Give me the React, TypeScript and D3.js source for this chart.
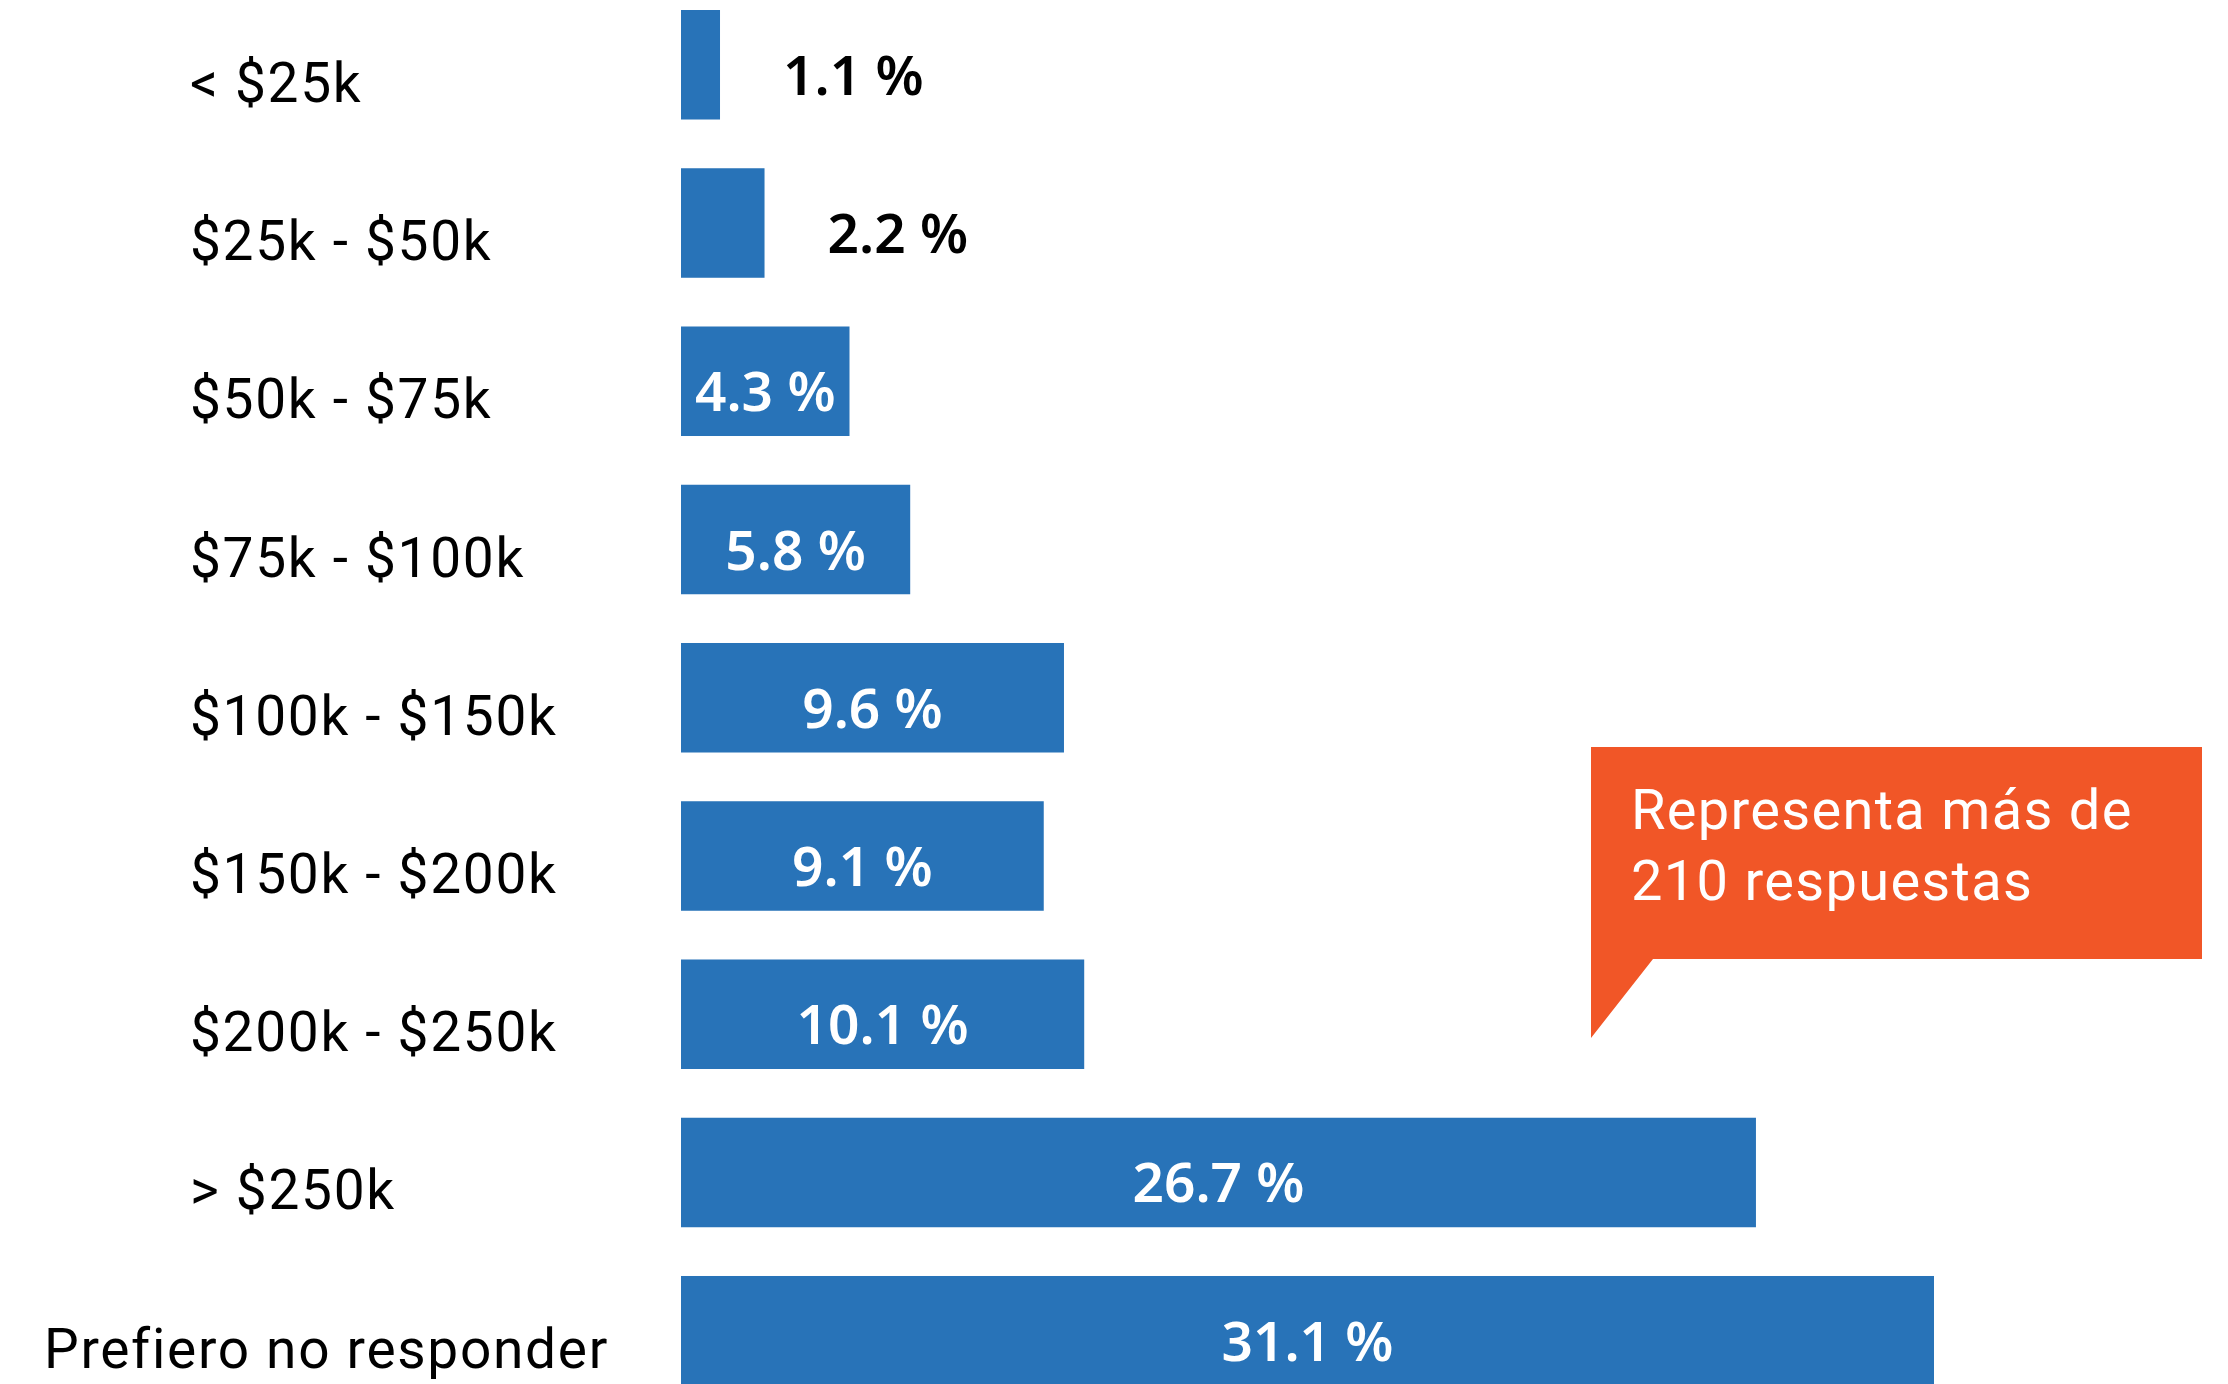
import React from "react";
import * as d3 from "d3";

const categories: string[] = [
  "< $25k",
  "$25k - $50k",
  "$50k - $75k",
  "$75k - $100k",
  "$100k - $150k",
  "$150k - $200k",
  "$200k - $250k",
  "> $250k",
  "Prefiero no responder",
];
const values: number[] = [1.1, 2.2, 4.3, 5.8, 9.6, 9.1, 10.1, 26.7, 31.1];
const annotationLines: string[] = ["Representa más de", "210 respuestas"];

const W = 2228;
const H = 1384;
const BLUE = "#2873B8";
const ORANGE = "#F15627";
const plotLeft = 681;
const labelLeft = 190;
const labelRightLimit = 609;
const catSpacing = 1.7;

function measure(text: string, font: string, spacing = 0): number {
  const c = document.createElement("canvas");
  const ctx = c.getContext("2d");
  if (!ctx) return text.length * 28;
  ctx.font = font;
  return ctx.measureText(text).width + spacing * text.length;
}

export default function App() {
  const x = d3.scaleLinear().domain([0, 31.1]).range([675.5, 1934]);
  const y = d3
    .scaleBand<string>()
    .domain(categories)
    .range([10, 1385.5])
    .paddingInner(0.308)
    .paddingOuter(0);
  const bw = y.bandwidth();
  const catFont = "400 55px Roboto";
  const valFont = "600 55px 'Noto Sans'";

  const box = { x: 1591, y: 747, w: 611, h: 212, tailX: 1653, tipY: 1038 };
  const calloutPath = d3.path();
  calloutPath.moveTo(box.x, box.y);
  calloutPath.lineTo(box.x + box.w, box.y);
  calloutPath.lineTo(box.x + box.w, box.y + box.h);
  calloutPath.lineTo(box.tailX, box.y + box.h);
  calloutPath.lineTo(box.x, box.tipY);
  calloutPath.closePath();

  return (
    <svg
      width={W}
      height={H}
      viewBox={`0 0 ${W} ${H}`}
      style={{ position: "absolute", left: 0, top: 0, background: "#fff" }}
    >
      {categories.map((c, i) => {
        const v = values[i];
        const y0 = y(c) as number;
        const cy = y0 + bw / 2;
        const right = x(v);
        const width = right - plotLeft;
        const valText = `${v.toFixed(1)} %`;
        const tw = measure(valText, valFont);
        const inside = width >= tw + 20;
        const cw = measure(c, catFont, catSpacing);
        const catEnd = labelLeft + cw > labelRightLimit;
        return (
          <g key={c}>
            <rect x={plotLeft} y={y0} width={width} height={bw} fill={BLUE} />
            <text
              x={catEnd ? labelRightLimit : labelLeft}
              y={cy + 37}
              textAnchor={catEnd ? "end" : "start"}
              style={{ font: catFont, letterSpacing: `${catSpacing}px` }}
              fill="#000"
            >
              {c}
            </text>
            <text
              x={inside ? plotLeft + width / 2 : right + 63}
              y={cy + 30}
              textAnchor={inside ? "middle" : "start"}
              style={{ font: valFont }}
              fill={inside ? "#fff" : "#000"}
            >
              {valText}
            </text>
          </g>
        );
      })}
      <path d={calloutPath.toString()} fill={ORANGE} />
      {annotationLines.map((t, i) => (
        <text
          key={t}
          x={1631}
          y={829 + i * 71}
          style={{ font: "400 56px Roboto", letterSpacing: "1.3px" }}
          fill="#fff"
        >
          {t}
        </text>
      ))}
    </svg>
  );
}
